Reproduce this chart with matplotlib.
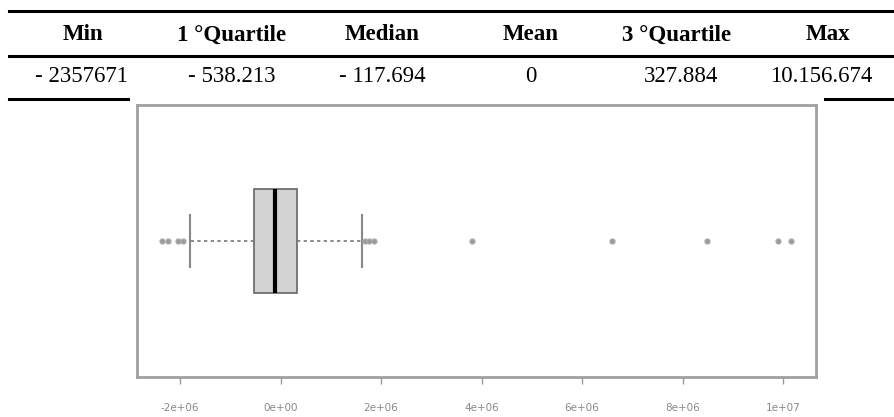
import matplotlib.pyplot as plt
from matplotlib.lines import Line2D

# table of summary statistics
headers = ["Min", "1 °Quartile", "Median", "Mean", "3 °Quartile", "Max"]
values = ["- 2357671", "- 538.213", "- 117.694", "0", "327.884", "10.156.674"]
header_x = [83, 232, 382, 531, 677, 828]
value_x = [82, 232, 382, 531, 681, 821]

# boxplot stats (residuals)
q1 = -538213
med = -117694
q3 = 327884
whislo = -1800000
whishi = 1620000
fliers = [-2357671, -2250000, -2040000, -1950000, 1680000, 1760000, 1850000,
          3800000, 6600000, 8480000, 9900000, 10156674]
xticks = [-2e6, 0, 2e6, 4e6, 6e6, 8e6, 1e7]
xticklabels = ["-2e+06", "0e+00", "2e+06", "4e+06", "6e+06", "8e+06", "1e+07"]

W, H = 895, 417
fig = plt.figure(figsize=(W / 100, H / 100), dpi=100)

serif = ["Liberation Serif", "DejaVu Serif"]
for t, x in zip(headers, header_x):
    fig.text(x / W, 1 - 35 / H, t, ha="center", va="center", fontsize=16.5,
             fontweight="bold", family=serif)
for t, x in zip(values, value_x):
    fig.text(x / W, 1 - 77 / H, t, ha="center", va="center", fontsize=16.5,
             family=serif)

def hline(x0, x1, y, lw=2.2):
    fig.add_artist(Line2D([x0 / W, x1 / W], [1 - y / H, 1 - y / H],
                          color="black", lw=lw, transform=fig.transFigure))

hline(9, 895, 11)
hline(9, 895, 56)
hline(9, 128, 99)
hline(825, 895, 99)

# boxplot
ax = fig.add_axes([137 / W, 40 / H, (816 - 137) / W, (377 - 105) / H])
stats = [dict(med=med, q1=q1, q3=q3, whislo=whislo, whishi=whishi,
              fliers=fliers)]
ax.bxp(stats, positions=[1], widths=0.386, capwidths=0.193, vert=False,
       patch_artist=True, showfliers=True,
       boxprops=dict(facecolor="#d3d3d3", edgecolor="#666666", lw=1.2),
       medianprops=dict(color="black", lw=3),
       whiskerprops=dict(color="#777777", lw=1.2, ls=(0, (2, 2))),
       capprops=dict(color="#888888", lw=1.5),
       flierprops=dict(marker="o", markersize=3.5, markerfacecolor="#999999",
                       markeredgecolor="#aaaaaa", lw=0))
ax.set_ylim(0.5, 1.5)
ax.set_xlim(-2.858e6, 10.657e6)
ax.set_yticks([])
ax.set_xticks(xticks)
ax.set_xticklabels(xticklabels, fontsize=7.5, color="#888888")
ax.tick_params(axis="x", length=5, color="#999999", width=1, pad=14)
for s in ax.spines.values():
    s.set_color("#a0a0a0")
    s.set_linewidth(2)

fig.savefig("out.png", dpi=100)
